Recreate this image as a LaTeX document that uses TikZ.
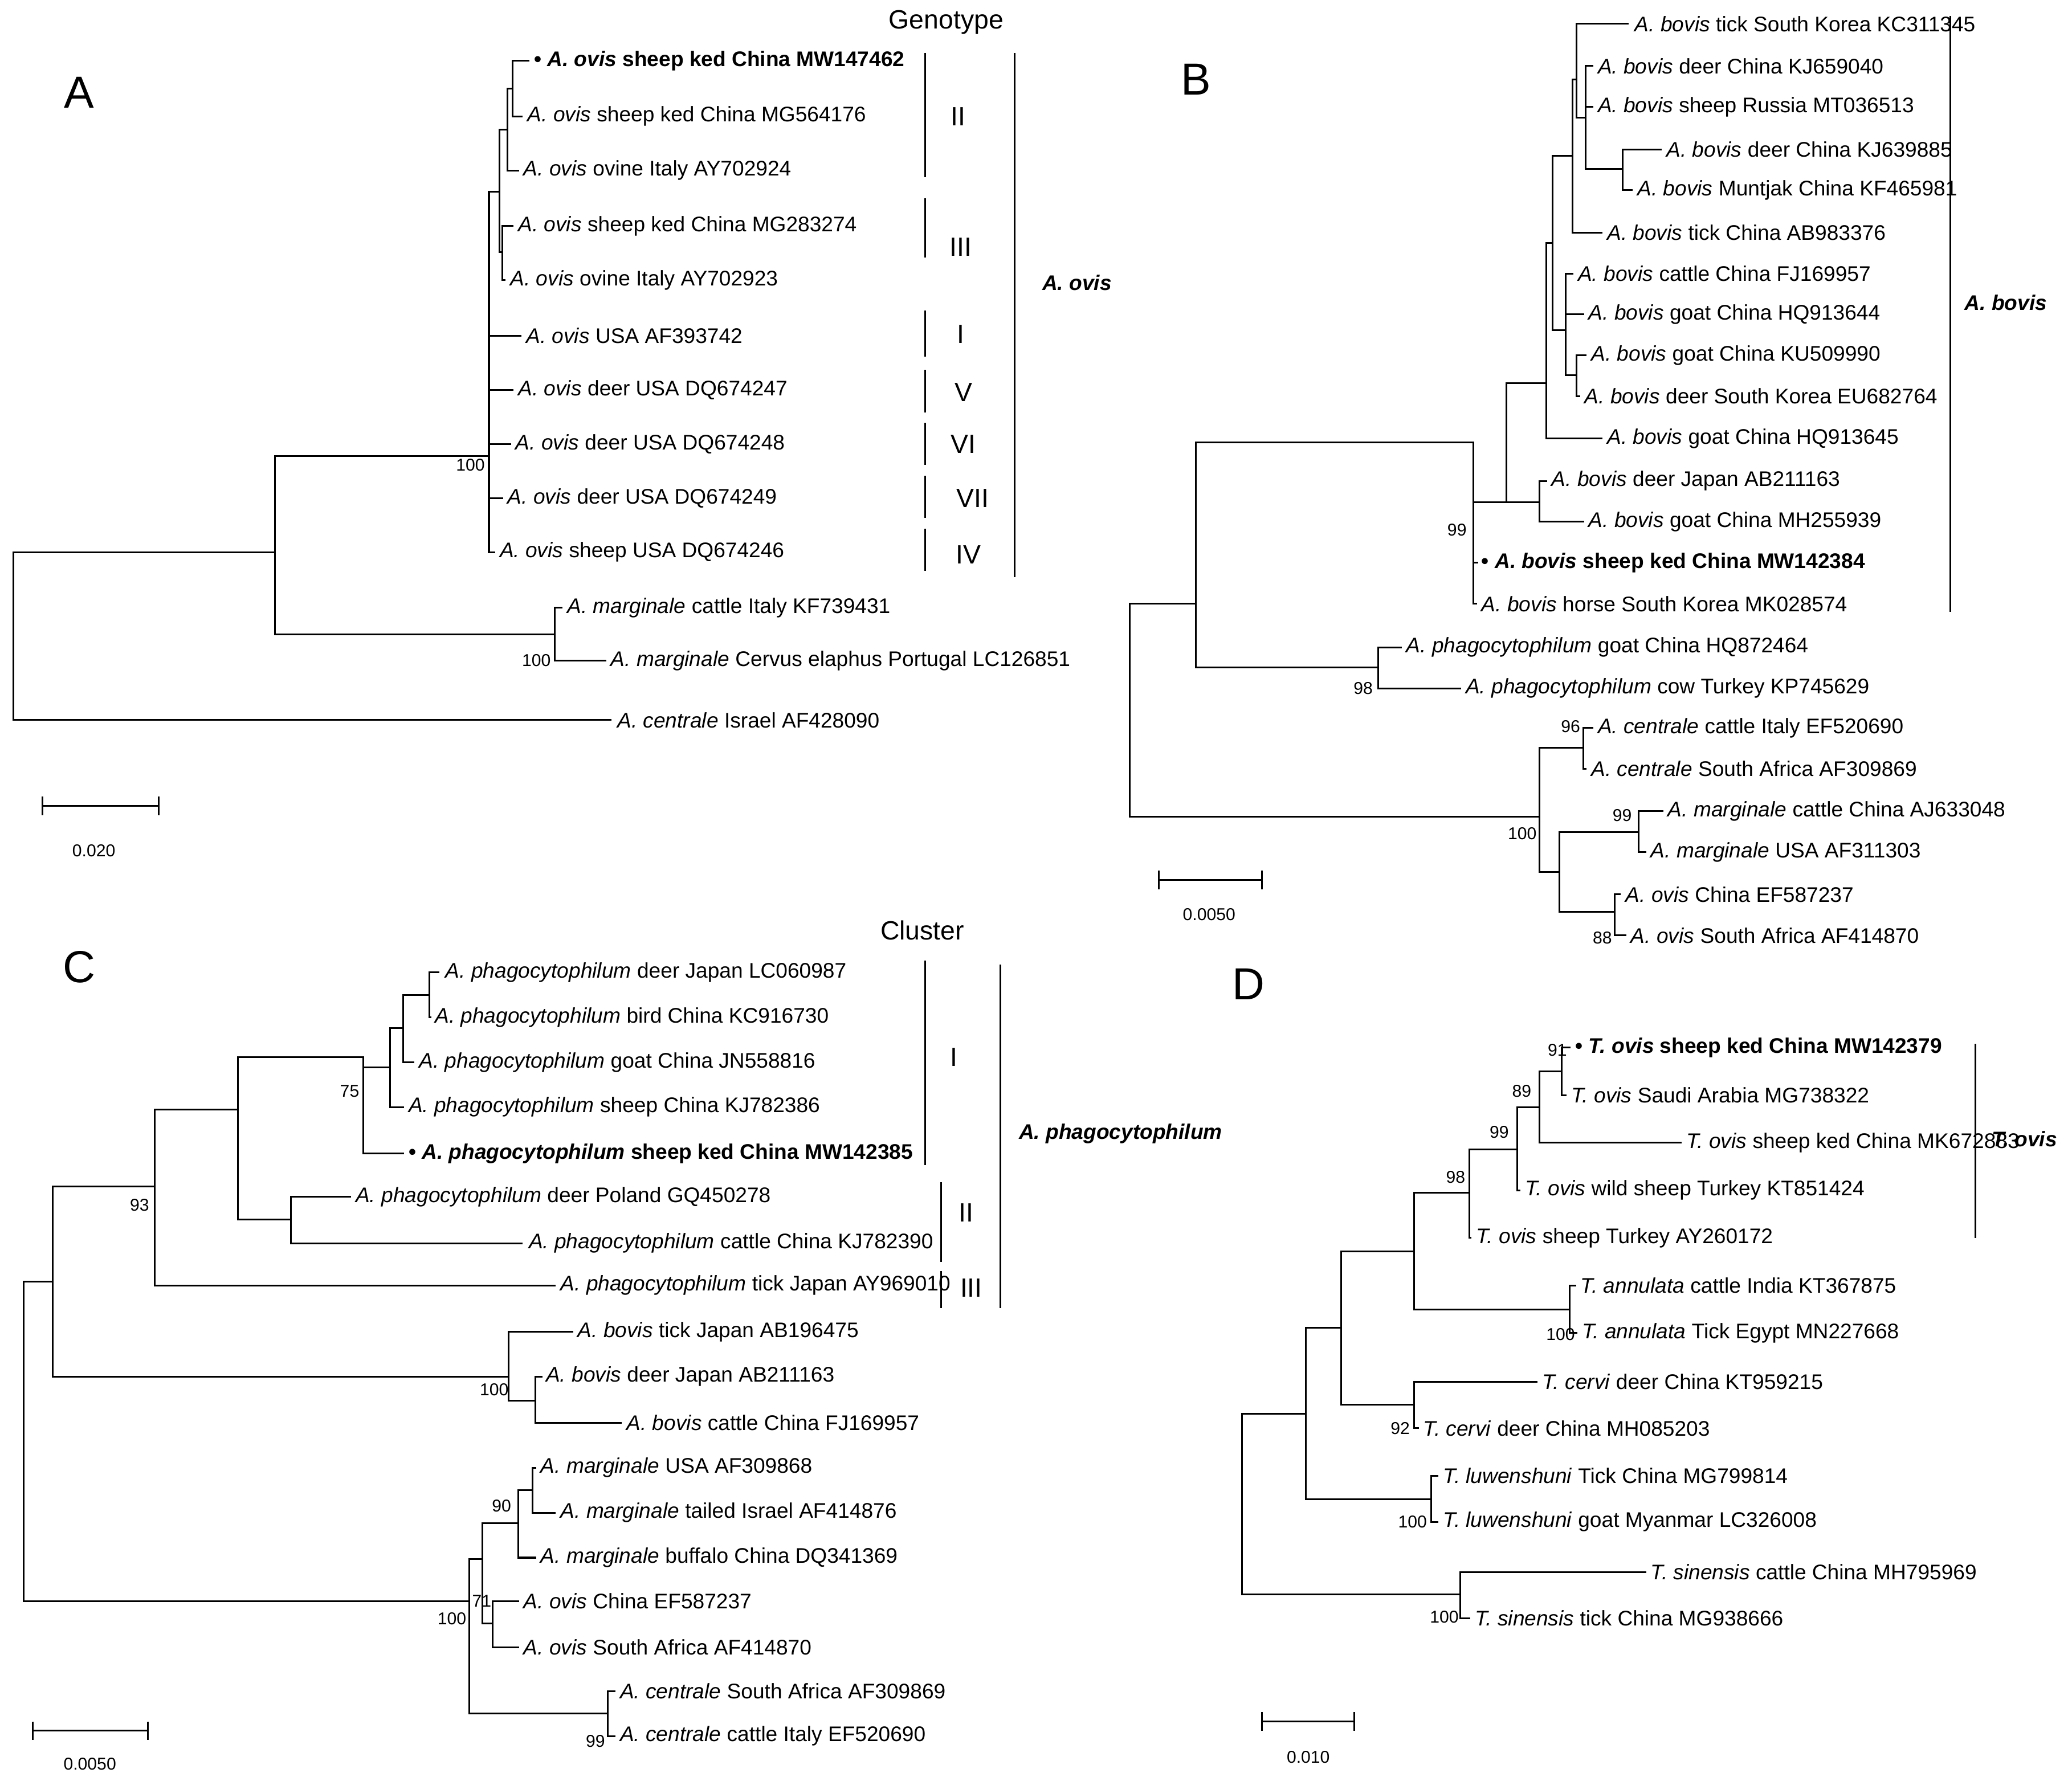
\documentclass[tikz,border=0pt]{standalone}
\usepackage{fontspec}
\setmainfont{Liberation Sans}
\newcommand\spn[1]{\textit{#1}}
\tikzset{lf/.style={anchor=west,inner sep=0pt,font=\fontsize{16}{18}\selectfont},
 bs/.style={anchor=east,inner sep=0pt,font=\fontsize{13}{15}\selectfont},
 rn/.style={inner sep=0pt,font=\fontsize{20}{22}\selectfont},
 pl/.style={inner sep=0pt,font=\fontsize{34}{36}\selectfont},
 cl/.style={inner sep=0pt,font=\bfseries\itshape\fontsize{16}{18}\selectfont},
 sc/.style={inner sep=0pt,font=\fontsize{13}{15}\selectfont},
 tr/.style={line width=1.3pt,line cap=rect}}
\newcommand\lv[3]{\node[lf] at (#1,#2) {#3};}
\newcommand\bv[3]{\node[bs] at (#1,#2) {#3};}
\begin{document}
\begin{tikzpicture}[x=1pt,y=-1pt]
\useasboundingbox[fill=white] (0,0) rectangle (1568,1342);
% ================= A
\node[pl] (pA) at (60,70) {A};
\node[rn] (gt) at (716,17) {Genotype};
\draw[tr] (10,418)--(10,545) (10,418)--(208,418) (208,345)--(208,480) (208,345)--(370,345)
 (208,480)--(420,480) (420,460)--(420,500) (420,460)--(425,460) (420,500)--(458,500) (10,545)--(462,545);
\draw[tr] (370,145)--(370,418) (370,418)--(374,418) (370,377)--(380,377) (370,336)--(386,336)
 (370,295)--(388,295) (370,254)--(394,254) (370,145)--(378,145)
 (378,98)--(378,191) (378,191)--(380,191) (380,171)--(380,212) (380,171)--(388,171) (380,212)--(382,212)
 (378,98)--(384,98) (384,67)--(384,129) (384,129)--(392,129) (384,67)--(388,67)
 (388,46)--(388,88) (388,46)--(400,46) (388,88)--(395,88);
\lv{404}{46}{\bfseries\textbullet\ \spn{A. ovis} sheep ked China MW147462}
\lv{399}{88}{\spn{A. ovis} sheep ked China MG564176}
\lv{396}{129}{\spn{A. ovis} ovine Italy AY702924}
\lv{392}{171}{\spn{A. ovis} sheep ked China MG283274}
\lv{386}{212}{\spn{A. ovis} ovine Italy AY702923}
\lv{398}{254}{\spn{A. ovis} USA AF393742}
\lv{392}{295}{\spn{A. ovis} deer USA DQ674247}
\lv{390}{336}{\spn{A. ovis} deer USA DQ674248}
\lv{384}{377}{\spn{A. ovis} deer USA DQ674249}
\lv{378}{418}{\spn{A. ovis} sheep USA DQ674246}
\lv{429}{460}{\spn{A. marginale} cattle Italy KF739431}
\lv{462}{500}{\spn{A. marginale} Cervus elaphus Portugal LC126851}
\lv{467}{545}{\spn{A. centrale} Israel AF428090}
\bv{367}{352}{100} \bv{417}{500}{100}
\draw[line width=1.3pt] (700,40)--(700,134) (700,150)--(700,195) (700,235)--(700,270) (700,280)--(700,312)
 (700,320)--(700,352) (700,360)--(700,392) (700,400)--(700,432) (768,40)--(768,437);
\node[rn] at (725,88) {II}; \node[rn] at (727,187) {III}; \node[rn] at (727,253) {I};
\node[rn] at (729,297) {V}; \node[rn] at (729,336) {VI}; \node[rn] at (736,377) {VII}; \node[rn] at (733,420) {IV};
\node[cl] at (815,214) {A. ovis};
\draw[line width=1.3pt] (32,610)--(120,610) (32,603)--(32,617) (120,603)--(120,617);
\node[sc] at (71,644) {0.020};
% ================= B
\node[pl] (pB) at (905,60) {B};
\draw[tr] (855,457)--(855,618) (855,457)--(905,457) (905,335)--(905,505) (905,505)--(1043,505)
 (1043,490)--(1043,521) (1043,490)--(1060,490) (1043,521)--(1105,521)
 (905,335)--(1115,335) (1115,335)--(1115,457) (1115,426)--(1118,426) (1115,457)--(1117,457)
 (1115,380)--(1140,380);
\draw[tr] (1140,290)--(1140,380) (1140,380)--(1165,380) (1165,364)--(1165,395) (1165,364)--(1170,364) (1165,395)--(1198,395)
 (1140,290)--(1170,290) (1170,184)--(1170,332) (1170,332)--(1212,332) (1170,184)--(1175,184)
 (1175,118)--(1175,250) (1175,250)--(1185,250) (1185,207)--(1185,284) (1185,207)--(1190,207)
 (1185,238)--(1198,238) (1185,284)--(1193,284) (1193,269)--(1193,300) (1193,269)--(1200,269) (1193,300)--(1195,300)
 (1175,118)--(1190,118) (1190,60)--(1190,176) (1190,176)--(1212,176) (1190,60)--(1193,60)
 (1193,18)--(1193,89) (1193,18)--(1232,18) (1193,89)--(1200,89) (1200,50)--(1200,128)
 (1200,50)--(1205,50) (1200,81)--(1205,81) (1200,128)--(1228,128) (1228,113)--(1228,144)
 (1228,113)--(1257,113) (1228,144)--(1235,144);
\lv{1237}{18}{\spn{A. bovis} tick South Korea KC311345}
\lv{1209}{50}{\spn{A. bovis} deer China KJ659040}
\lv{1209}{81}{\spn{A. bovis} sheep Russia MT036513}
\lv{1261}{113}{\spn{A. bovis} deer China KJ639885}
\lv{1239}{144}{\spn{A. bovis} Muntjak China KF465981}
\lv{1216}{176}{\spn{A. bovis} tick China AB983376}
\lv{1194}{207}{\spn{A. bovis} cattle China FJ169957}
\lv{1202}{238}{\spn{A. bovis} goat China HQ913644}
\lv{1204}{269}{\spn{A. bovis} goat China KU509990}
\lv{1199}{300}{\spn{A. bovis} deer South Korea EU682764}
\lv{1216}{332}{\spn{A. bovis} goat China HQ913645}
\lv{1174}{364}{\spn{A. bovis} deer Japan AB211163}
\lv{1202}{395}{\spn{A. bovis} goat China MH255939}
\lv{1121}{426}{\bfseries\textbullet\ \spn{A. bovis} sheep ked China MW142384}
\lv{1121}{457}{\spn{A. bovis} horse South Korea MK028574}
\lv{1064}{490}{\spn{A. phagocytophilum} goat China HQ872464}
\lv{1109}{521}{\spn{A. phagocytophilum} cow Turkey KP745629}
\bv{1110}{401}{99} \bv{1039}{521}{98}
\draw[tr] (855,618)--(1165,618) (1165,566)--(1165,660) (1165,566)--(1198,566) (1198,551)--(1198,582)
 (1198,551)--(1205,551) (1198,582)--(1200,582) (1165,660)--(1180,660) (1180,630)--(1180,690)
 (1180,630)--(1240,630) (1240,614)--(1240,645) (1240,614)--(1258,614) (1240,645)--(1245,645)
 (1180,690)--(1222,690) (1222,677)--(1222,708) (1222,677)--(1226,677) (1222,708)--(1230,708);
\lv{1209}{551}{\spn{A. centrale} cattle Italy EF520690}
\lv{1204}{582}{\spn{A. centrale} South Africa AF309869}
\lv{1262}{614}{\spn{A. marginale} cattle China AJ633048}
\lv{1249}{645}{\spn{A. marginale} USA AF311303}
\lv{1230}{677}{\spn{A. ovis} China EF587237}
\lv{1234}{708}{\spn{A. ovis} South Africa AF414870}
\bv{1196}{550}{96} \bv{1163}{631}{100} \bv{1235}{617}{99} \bv{1220}{710}{88}
\draw[line width=1.3pt] (1476,12)--(1476,463);
\node[cl] at (1518,229) {A. bovis};
\draw[line width=1.3pt] (877,666)--(955,666) (877,659)--(877,673) (955,659)--(955,673);
\node[sc] at (915,692) {0.0050};
% ================= C
\node[pl] (pC) at (60,732) {C};
\node[rn] (cu) at (698,704) {Cluster};
\draw[tr] (18,970)--(18,1212) (18,970)--(40,970) (40,898)--(40,1042) (40,898)--(117,898)
 (117,840)--(117,973) (117,973)--(420,973) (117,840)--(180,840) (180,800)--(180,923)
 (180,923)--(220,923) (220,906)--(220,941) (220,906)--(265,906) (220,941)--(395,941)
 (180,800)--(275,800) (275,800)--(275,873) (275,873)--(305,873)
 (275,808)--(295,808) (295,778)--(295,838) (295,838)--(305,838) (295,778)--(305,778)
 (305,753)--(305,804) (305,804)--(313,804) (305,753)--(325,753) (325,736)--(325,770)
 (325,736)--(332,736) (325,770)--(326,770);
\draw[tr] (40,1042)--(385,1042) (385,1008)--(385,1060) (385,1008)--(433,1008) (385,1060)--(405,1060)
 (405,1042)--(405,1077) (405,1042)--(410,1042) (405,1077)--(470,1077)
 (18,1212)--(355,1212) (355,1180)--(355,1297) (355,1180)--(365,1180) (365,1153)--(365,1229)
 (365,1153)--(392,1153) (392,1128)--(392,1179) (392,1179)--(405,1179) (392,1128)--(403,1128)
 (403,1111)--(403,1145) (403,1111)--(405,1111) (403,1145)--(420,1145)
 (365,1229)--(373,1229) (373,1212)--(373,1247) (373,1212)--(392,1212) (373,1247)--(392,1247)
 (355,1297)--(460,1297) (460,1280)--(460,1314) (460,1280)--(465,1280) (460,1314)--(465,1314);
\lv{337}{736}{\spn{A. phagocytophilum} deer Japan LC060987}
\lv{329}{770}{\spn{A. phagocytophilum} bird China KC916730}
\lv{317}{804}{\spn{A. phagocytophilum} goat China JN558816}
\lv{309}{838}{\spn{A. phagocytophilum} sheep China KJ782386}
\lv{309}{873}{\bfseries\textbullet\ \spn{A. phagocytophilum} sheep ked China MW142385}
\lv{269}{906}{\spn{A. phagocytophilum} deer Poland GQ450278}
\lv{400}{941}{\spn{A. phagocytophilum} cattle China KJ782390}
\lv{424}{973}{\spn{A. phagocytophilum} tick Japan AY969010}
\lv{437}{1008}{\spn{A. bovis} tick Japan AB196475}
\lv{413}{1042}{\spn{A. bovis} deer Japan AB211163}
\lv{474}{1077}{\spn{A. bovis} cattle China FJ169957}
\lv{409}{1111}{\spn{A. marginale} USA AF309868}
\lv{424}{1145}{\spn{A. marginale} tailed Israel AF414876}
\lv{409}{1179}{\spn{A. marginale} buffalo China DQ341369}
\lv{396}{1212}{\spn{A. ovis} China EF587237}
\lv{396}{1247}{\spn{A. ovis} South Africa AF414870}
\lv{469}{1280}{\spn{A. centrale} South Africa AF309869}
\lv{469}{1314}{\spn{A. centrale} cattle Italy EF520690}
\bv{113}{912}{93} \bv{272}{826}{75} \bv{385}{1052}{100} \bv{387}{1140}{90} \bv{372}{1212}{71}
\bv{353}{1225}{100} \bv{458}{1318}{99}
\draw[line width=1.3pt] (700,727)--(700,882) (712,895)--(712,955) (712,962)--(712,990) (757,730)--(757,990);
\node[rn] at (722,800) {I}; \node[rn] at (731,918) {II}; \node[rn] at (735,975) {III};
\node[cl] at (848,858) {A. phagocytophilum};
\draw[line width=1.3pt] (25,1310)--(112,1310) (25,1303)--(25,1317) (112,1303)--(112,1317);
\node[sc] at (68,1335) {0.0050};
% ================= D
\node[pl] (pD) at (945,745) {D};
\draw[tr] (940,1070)--(940,1207) (940,1070)--(988,1070) (988,1005)--(988,1135) (988,1005)--(1015,1005)
 (1015,947)--(1015,1063) (1015,947)--(1070,947) (1070,903)--(1070,991) (1070,903)--(1112,903)
 (1112,870)--(1112,937) (1112,937)--(1113,937) (1112,870)--(1148,870) (1148,838)--(1148,901)
 (1148,901)--(1150,901) (1148,838)--(1165,838) (1165,811)--(1165,865) (1165,865)--(1272,865)
 (1165,811)--(1182,811) (1182,793)--(1182,829) (1182,793)--(1188,793) (1182,829)--(1185,829)
 (1070,991)--(1188,991) (1188,973)--(1188,1009) (1188,973)--(1192,973) (1188,1009)--(1193,1009)
 (1015,1063)--(1070,1063) (1070,1046)--(1070,1081) (1070,1046)--(1163,1046) (1070,1081)--(1073,1081)
 (988,1135)--(1083,1135) (1083,1117)--(1083,1152) (1083,1117)--(1088,1117) (1083,1152)--(1088,1152)
 (940,1207)--(1105,1207) (1105,1190)--(1105,1225) (1105,1190)--(1245,1190) (1105,1225)--(1112,1225);
\lv{1192}{793}{\bfseries\textbullet\ \spn{T. ovis} sheep ked China MW142379}
\lv{1189}{829}{\spn{T. ovis} Saudi Arabia MG738322}
\lv{1276}{865}{\spn{T. ovis} sheep ked China MK672883}
\lv{1154}{901}{\spn{T. ovis} wild sheep Turkey KT851424}
\lv{1117}{937}{\spn{T. ovis} sheep Turkey AY260172}
\lv{1196}{973}{\spn{T. annulata} cattle India KT367875}
\lv{1197}{1009}{\spn{T. annulata} Tick Egypt MN227668}
\lv{1167}{1046}{\spn{T. cervi} deer China KT959215}
\lv{1077}{1081}{\spn{T. cervi} deer China MH085203}
\lv{1092}{1117}{\spn{T. luwenshuni} Tick China MG799814}
\lv{1092}{1152}{\spn{T. luwenshuni} goat Myanmar LC326008}
\lv{1249}{1190}{\spn{T. sinensis} cattle China MH795969}
\lv{1116}{1225}{\spn{T. sinensis} tick China MG938666}
\bv{1186}{795}{91} \bv{1159}{826}{89} \bv{1142}{857}{99} \bv{1109}{891}{98} \bv{1192}{1010}{100}
\bv{1067}{1081}{92} \bv{1080}{1152}{100} \bv{1104}{1224}{100}
\draw[line width=1.3pt] (1495,790)--(1495,937);
\node[cl] at (1532,862) {T. ovis};
\draw[line width=1.3pt] (955,1303)--(1025,1303) (955,1296)--(955,1310) (1025,1296)--(1025,1310);
\node[sc] at (990,1330) {0.010};
\end{tikzpicture}
\end{document}
